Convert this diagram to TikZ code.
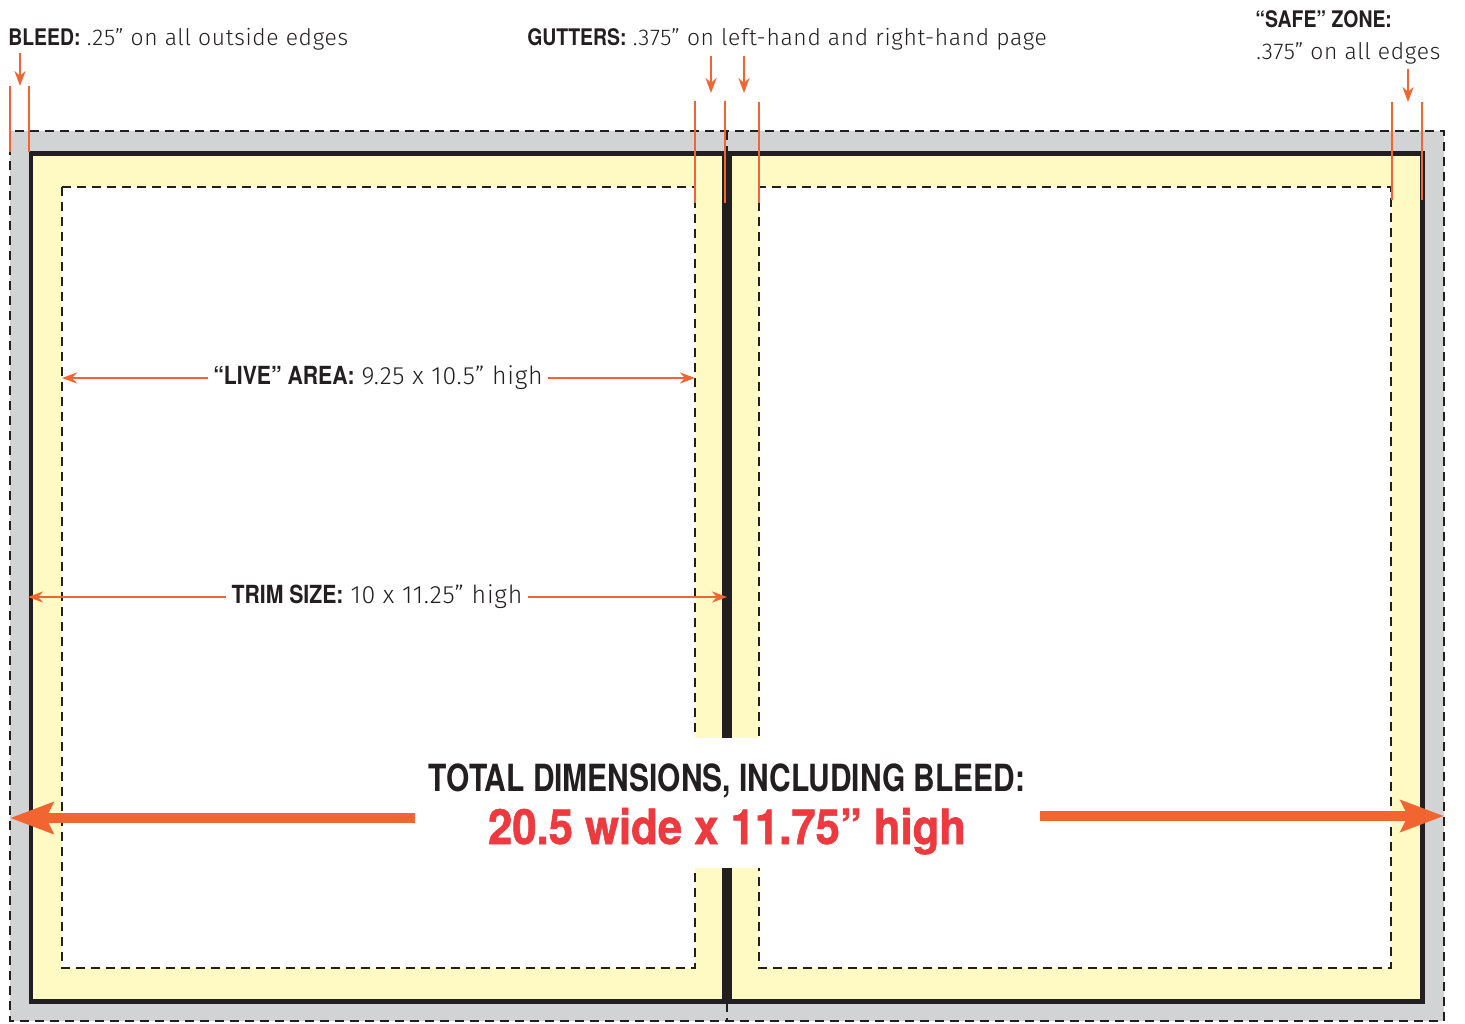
\documentclass[tikz,border=0pt]{standalone}
\usepackage{fontspec}
\setmainfont{TeX Gyre Heros}
\newfontfamily\lightfont[LetterSpace=3]{Fira Sans Light}
\newfontfamily\condfont[FakeStretch=0.85]{TeX Gyre Heros}
\newfontfamily\titlefont[FakeStretch=0.8]{TeX Gyre Heros}
\newfontfamily\bigfont[FakeStretch=0.9, FakeBold=1.2]{TeX Gyre Heros}
\usetikzlibrary{arrows.meta}
\usetikzlibrary{positioning}

\definecolor{bleedgray}{HTML}{D1D3D4}
\definecolor{trimyellow}{HTML}{FFF9C4}
\definecolor{inkblack}{HTML}{231F20}
\definecolor{markorange}{HTML}{F26531}
\definecolor{sizered}{HTML}{EE3A3F}

\newcommand{\lbl}[2]{{\condfont\bfseries #1} {\lightfont #2}}

\tikzset{
  cutline/.style={inkblack, line width=0.055cm, dash pattern=on 0.18cm off 0.12cm},
  marker/.style={markorange, line width=0.045cm},
  pointer/.style={markorange, line width=0.045cm, -{Stealth[length=0.3cm, width=0.22cm]}},
  hdr/.style={text=inkblack, font=\fontsize{13}{15}\selectfont, inner sep=0pt},
  dimlabel/.style={text=inkblack, font=\fontsize{14.2}{16}\selectfont, inner sep=0.1cm}
}

\begin{document}
\begin{tikzpicture}[x=0.02cm, y=-0.02cm]
        \useasboundingbox (0,0) rectangle (1465,1024);
        % bleed, trim and live area of both pages
        \fill[bleedgray] (10,131) rectangle (1444,1021);
        \foreach \xa/\xb/\la/\lb in {31/724.5/62/695, 729.5/1422/759/1391} {
           \fill[trimyellow] (\xa,154) rectangle (\xb,1001);
           \fill[white] (\la,187) rectangle (\lb,968);
           \draw[cutline] (\la,187) rectangle (\lb,968);
           \draw[inkblack, line width=0.1cm] (\xa,154) rectangle (\xb,1001);
        }
        \draw[cutline] (10,131) rectangle (1444,1021);
        \draw[cutline] (727,131) -- (727,152);
        \draw[cutline] (727,1003) -- (727,1021);

        % orange edge markers
        \foreach \x/\ya/\yb in {10/86/152, 29/86/152, 695/101/203, 725/101/203, 759/102/203, 1392/102/200, 1422/102/200}
           \draw[marker] (\x,\ya) -- (\x,\yb);

        \node[hdr, anchor=base west] at (8,46) (bleed) {\lbl{BLEED:}{.25” on all outside edges}};
        \node[hdr, anchor=base west] at (527,46) (gutters) {\lbl{GUTTERS:}{.375” on left-hand and right-hand page}};
        \node[hdr, anchor=base west] at (1255,28) (safe) {\lbl{“SAFE” ZONE:}{}};
        \node[hdr, anchor=base west] at (1256,60) (safeval) {\lightfont .375” on all edges};

        \coordinate (bleedtip) at (20,86);
        \coordinate (guttipa) at (711,93);
        \coordinate (guttipb) at (744,93);
        \coordinate (safetip) at (1408,102);
        \draw[pointer] ([yshift=-1pt]bleed.south -| bleedtip) -- (bleedtip);
        \draw[pointer] ([yshift=-3pt]gutters.south -| guttipa) -- (guttipa);
        \draw[pointer] ([yshift=-3pt]gutters.south -| guttipb) -- (guttipb);
        \draw[pointer] ([yshift=-2pt]safeval.south -| safetip) -- (safetip);

        % page measurements
        \node[dimlabel] at (378,378) (live) {\lbl{“LIVE” AREA:}{9.25 x 10.5” high}};
        \coordinate (livel) at (62,378);
        \coordinate (liver) at (695,378);
        \draw[pointer] (live.west) -- (livel);
        \draw[pointer] (live.east) -- (liver);

        \node[dimlabel] at (377,597) (trim) {\lbl{TRIM SIZE:}{10 x 11.25” high}};
        \coordinate (triml) at (28,597);
        \coordinate (trimr) at (727,597);
        \draw[pointer] (trim.west) -- (triml);
        \draw[pointer] (trim.east) -- (trimr);

        % total size
        \node[fill=white, inner sep=0pt, minimum width=12.5cm, minimum height=2.6cm] at (727.5,803) (total) {};
        \node[anchor=base, text=inkblack, font=\titlefont\bfseries\fontsize{21.3}{24}\selectfont] at (727,791) (totaltxt) {TOTAL DIMENSIONS, INCLUDING BLEED:};
        \node[anchor=base, text=sizered, font=\bigfont\bfseries\fontsize{27.6}{30}\selectfont] at (727,844) (totalval) {20.5 wide x 11.75” high};
        \coordinate (totl) at (10,818);
        \coordinate (totr) at (1444,816);
        \draw[markorange, line width=0.2cm, -{Stealth[length=0.86cm, width=0.62cm, inset=0.14cm]}] (total.west |- totl) -- (totl);
        \draw[markorange, line width=0.2cm, -{Stealth[length=0.86cm, width=0.62cm, inset=0.14cm]}] (total.east |- totr) -- (totr);
\end{tikzpicture}
\end{document}
